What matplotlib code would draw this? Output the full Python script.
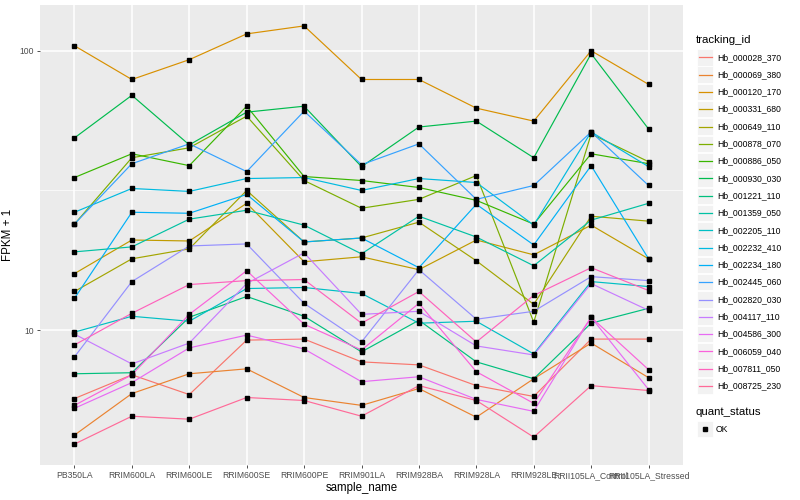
import numpy as np
import matplotlib
matplotlib.use("Agg")
import matplotlib.pyplot as plt
from matplotlib.patches import Rectangle

plt.rcParams['font.family'] = ['Liberation Sans', 'DejaVu Sans']

samples = ["PB350LA", "RRIM600LA", "RRIM600LE", "RRIM600SE", "RRIM600PE",
           "RRIM901LA", "RRIM928BA", "RRIM928LA", "RRIM928LE",
           "RRII105LA_Control", "RRII105LA_Stressed"]

tracking_ids = ["Hb_000028_370", "Hb_000069_380", "Hb_000120_170", "Hb_000331_680",
                "Hb_000649_110", "Hb_000878_070", "Hb_000886_050", "Hb_000930_030",
                "Hb_001221_110", "Hb_001359_050", "Hb_002205_110", "Hb_002232_410",
                "Hb_002234_180", "Hb_002445_060", "Hb_002820_030", "Hb_004117_110",
                "Hb_004586_300", "Hb_006059_040", "Hb_007811_050", "Hb_008725_230"]

# FPKM + 1 per sample
hb_000028_370 = [5.69, 6.92, 5.88, 9.21, 9.29, 7.70, 7.51, 6.33, 5.79, 9.29, 9.29]
hb_000069_380 = [4.21, 5.93, 6.98, 7.27, 5.74, 5.38, 6.18, 4.88, 6.70, 8.99, 6.76]
hb_000120_170 = [104.2, 78.9, 92.9, 114.9, 122.7, 78.9, 78.9, 62.3, 56.0, 100.0, 75.8]
hb_000331_680 = [15.93, 21.02, 20.85, 28.44, 17.57, 18.30, 16.46, 21.02, 18.60, 23.76, 18.00]
hb_000649_110 = [13.75, 18.00, 19.54, 31.62, 20.68, 21.37, 24.35, 17.71, 12.37, 25.57, 24.55]
hb_000878_070 = [23.96, 41.40, 44.94, 58.34, 34.32, 27.31, 29.38, 35.75, 10.68, 50.36, 40.07]
hb_000886_050 = [35.17, 42.78, 38.79, 63.31, 35.46, 34.32, 32.40, 29.14, 23.96, 42.78, 39.42]
hb_000930_030 = [48.75, 69.25, 46.04, 60.28, 63.31, 38.47, 53.33, 56.00, 41.40, 97.59, 52.48]
hb_001221_110 = [6.98, 7.04, 11.12, 13.20, 11.21, 8.36, 10.85, 7.70, 6.70, 10.59, 11.97]
hb_001359_050 = [19.06, 19.86, 24.96, 26.86, 23.76, 18.75, 25.57, 21.54, 17.00, 24.76, 28.44]
hb_002205_110 = [9.84, 11.21, 10.76, 14.09, 14.21, 13.53, 10.59, 10.76, 8.22, 14.92, 14.32]
hb_002232_410 = [26.42, 32.14, 31.37, 34.88, 35.17, 31.62, 34.88, 33.76, 23.76, 51.21, 38.47]
hb_002234_180 = [12.99, 26.42, 26.20, 30.60, 20.68, 21.37, 16.73, 28.21, 20.18, 38.79, 18.00]
hb_002445_060 = [23.96, 39.42, 46.42, 36.94, 60.78, 39.10, 46.42, 29.38, 32.94, 51.21, 32.94]
hb_002820_030 = [8.02, 14.92, 20.01, 20.35, 12.47, 9.07, 16.46, 10.94, 11.68, 15.54, 15.04]
hb_004117_110 = [9.68, 7.57, 8.99, 14.68, 18.91, 11.39, 11.68, 8.78, 8.15, 14.68, 11.77]
hb_004586_300 = [5.25, 6.49, 8.64, 9.60, 8.56, 6.54, 6.81, 5.65, 5.12, 11.12, 6.13]
hb_006059_040 = [5.38, 6.92, 11.39, 16.32, 10.50, 8.49, 12.47, 7.10, 5.47, 11.12, 7.22]
hb_007811_050 = [8.85, 11.49, 14.56, 15.04, 15.17, 10.59, 13.75, 9.07, 13.31, 16.73, 13.86]
hb_008725_230 = [3.91, 4.92, 4.80, 5.74, 5.60, 4.92, 6.33, 5.60, 4.14, 6.33, 6.08]

series = [hb_000028_370, hb_000069_380, hb_000120_170, hb_000331_680, hb_000649_110,
          hb_000878_070, hb_000886_050, hb_000930_030, hb_001221_110, hb_001359_050,
          hb_002205_110, hb_002232_410, hb_002234_180, hb_002445_060, hb_002820_030,
          hb_004117_110, hb_004586_300, hb_006059_040, hb_007811_050, hb_008725_230]


def hcl(h, c=100, l=65):
    # polar LUV -> sRGB, like R's hcl()
    hr = np.deg2rad(h)
    U, V = c * np.cos(hr), c * np.sin(hr)
    Xn, Yn, Zn = 95.047, 100.0, 108.883
    un = 4 * Xn / (Xn + 15 * Yn + 3 * Zn)
    vn = 9 * Yn / (Xn + 15 * Yn + 3 * Zn)
    Y = Yn * ((l + 16) / 116) ** 3
    u = U / (13 * l) + un
    v = V / (13 * l) + vn
    X = 9 * Y * u / (4 * v)
    Z = -X / 3 - 5 * Y + 3 * Y / v
    M = np.array([[3.240479, -1.537150, -0.498535],
                  [-0.969256, 1.875992, 0.041556],
                  [0.055648, -0.204043, 1.057311]])
    rgb = M @ (np.array([X, Y, Z]) / 100)
    rgb = np.where(rgb > 0.0031308, 1.055 * np.clip(rgb, 0, None) ** (1 / 2.4) - 0.055, 12.92 * rgb)
    return tuple(np.clip(rgb, 0, 1))


n = len(tracking_ids)
hues = np.linspace(15, 375, n + 1)[:n]
colors = [hcl(h) for h in hues]

fig = plt.figure(figsize=(8, 5), dpi=100)
fig.patch.set_facecolor("white")
ax = fig.add_axes([40 / 800, 35 / 500, 643 / 800, 460 / 500])
ax.set_facecolor("#EBEBEB")

x = np.arange(len(samples))
for vals, col in zip(series, colors):
    ax.plot(x, vals, color=col, lw=0.85, zorder=3)
for vals in series:
    ax.plot(x, vals, ls="none", marker="s", ms=2.3, color="black", zorder=4)

ax.set_yscale("log")
allv = np.concatenate([np.log10(s) for s in series])
lo, hi = allv.min(), allv.max()
pad = (hi - lo) * 0.05
ax.set_ylim(10 ** (lo - pad), 10 ** (hi + pad))
ax.set_xlim(-0.6, len(samples) - 0.4)

ax.set_yticks([10, 100])
ax.set_yticklabels(["10", "100"])
ax.set_yticks([10 ** 1.5], minor=True)
ax.yaxis.set_minor_formatter(plt.NullFormatter())
ax.set_xticks(x)
ax.set_xticklabels(samples)

ax.grid(True, which="major", color="white", lw=1.1, zorder=0)
ax.grid(True, which="minor", axis="y", color="white", lw=0.5, zorder=0)
ax.set_axisbelow(True)
for s in ax.spines.values():
    s.set_visible(False)
ax.tick_params(axis="both", which="major", length=2.5, width=0.6, color="#333333",
               labelsize=6.2, labelcolor="#4D4D4D", pad=2)
ax.tick_params(axis="y", which="minor", length=0)

ax.set_xlabel("sample_name", fontsize=8.3, labelpad=1)
ax.set_ylabel("FPKM + 1", fontsize=8.3, labelpad=4)

# legend drawn by hand, ggplot style
lax = fig.add_axes([685 / 800, 0, 115 / 800, 1])
lax.set_xlim(685, 800)
lax.set_ylim(500, 0)
lax.axis("off")
lax.text(696, 40, "tracking_id", fontsize=8.2, va="center", ha="left")
for i, (tid, col) in enumerate(zip(tracking_ids, colors)):
    yc = 57.3 + 17.3 * i
    lax.add_patch(Rectangle((697, yc - 8.2), 16.4, 16.4, facecolor="#F2F2F2",
                            edgecolor="white", lw=0.6))
    lax.plot([698.5, 711.5], [yc, yc], color=col, lw=0.9)
    lax.text(717, yc, tid, fontsize=6.2, va="center", ha="left")

lax.text(696, 412, "quant_status", fontsize=8.2, va="center", ha="left")
lax.add_patch(Rectangle((697, 429 - 8.2), 16.4, 16.4, facecolor="#F2F2F2",
                        edgecolor="white", lw=0.6))
lax.plot([705], [429], marker="s", ms=2.3, color="black")
lax.text(716, 429, "OK", fontsize=6.2, va="center", ha="left")

fig.savefig("out.png", dpi=100)
